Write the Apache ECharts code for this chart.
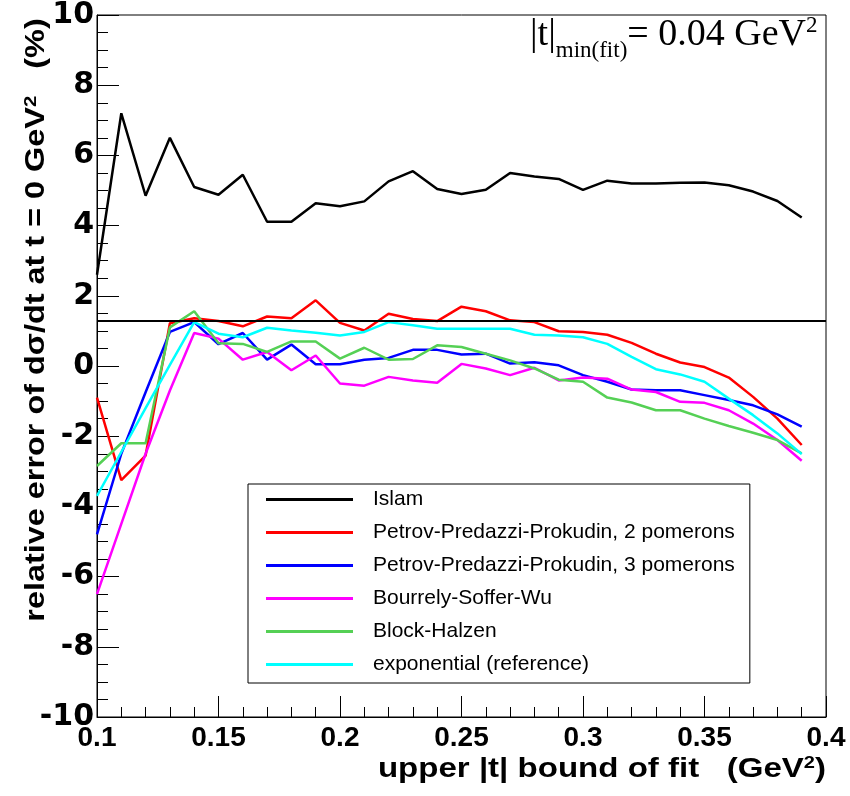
<!DOCTYPE html>
<html><head><meta charset="utf-8">
<script src="https://cdn.jsdelivr.net/npm/echarts@6/dist/echarts.min.js"></script>
<style>html,body{margin:0;padding:0;background:#fff}#c{width:850px;height:796px}</style>
</head><body><div id="c"></div>
<script>
const tUpper = [0.10,0.11,0.12,0.13,0.14,0.15,0.16,0.17,0.18,0.19,0.20,0.21,0.22,0.23,0.24,0.25,0.26,0.27,0.28,0.29,0.30,0.31,0.32,0.33,0.34,0.35,0.36,0.37,0.38,0.39];
const islam = [2.6,7.2,4.85,6.5,5.1,4.88,5.45,4.11,4.11,4.64,4.55,4.69,5.26,5.55,5.04,4.9,5.02,5.5,5.4,5.33,5.02,5.28,5.2,5.2,5.22,5.23,5.15,4.97,4.7,4.23];
const ppp2 = [-0.9,-3.25,-2.55,1.22,1.36,1.28,1.13,1.41,1.36,1.87,1.23,1.01,1.49,1.34,1.28,1.69,1.56,1.30,1.25,0.99,0.97,0.89,0.66,0.35,0.10,-0.03,-0.33,-0.88,-1.50,-2.25];
const ppp3 = [-4.8,-2.5,-0.75,0.97,1.25,0.62,0.94,0.18,0.61,0.05,0.05,0.18,0.23,0.46,0.46,0.33,0.35,0.07,0.11,0.02,-0.26,-0.45,-0.67,-0.69,-0.69,-0.83,-0.97,-1.12,-1.38,-1.73];
const bsw = [-6.5,-4.5,-2.5,-0.7,0.94,0.78,0.18,0.40,-0.12,0.30,-0.5,-0.56,-0.31,-0.41,-0.48,0.06,-0.07,-0.26,-0.05,-0.41,-0.33,-0.36,-0.67,-0.74,-1.02,-1.05,-1.26,-1.64,-2.11,-2.70];
const blockHalzen = [-2.85,-2.2,-2.2,1.1,1.56,0.65,0.63,0.40,0.70,0.70,0.21,0.52,0.18,0.20,0.59,0.54,0.35,0.16,-0.07,-0.39,-0.45,-0.90,-1.04,-1.26,-1.26,-1.50,-1.71,-1.90,-2.11,-2.49];
const exponential = [-3.7,-2.45,-1.2,0.03,1.25,0.92,0.82,1.09,1.01,0.95,0.87,0.97,1.25,1.16,1.06,1.06,1.06,1.06,0.89,0.87,0.82,0.63,0.26,-0.09,-0.24,-0.45,-0.93,-1.40,-1.92,-2.51];
const referenceLevel = 1.3;
const seriesNames = ['Islam','Petrov-Predazzi-Prokudin, 2 pomerons','Petrov-Predazzi-Prokudin, 3 pomerons','Bourrely-Soffer-Wu','Block-Halzen','exponential (reference)'];
const seriesValues = [islam, ppp2, ppp3, bsw, blockHalzen, exponential];
const seriesColors = ['#000000','#ff0000','#0000ff','#ff00ff','#55d055','#00ffff'];
const xTickLabels = ['0.1','0.15','0.2','0.25','0.3','0.35','0.4'];

const chart = echarts.init(document.getElementById('c'), null, {renderer:'canvas'});
const FONT = 'Liberation Sans, Arial, sans-serif';
const SERIF = 'Liberation Serif, Times New Roman, serif';
const mctx = document.createElement('canvas').getContext('2d');
function tw(text, size){ mctx.font = size + 'px ' + SERIF; return mctx.measureText(text).width; }

// annotation |t|min(fit)= 0.04 GeV2 built from pieces
const mainSize = 38, subSize = 23;
const annX = 530, mainBase = 48, subBase = 59, supTop = 18;
const pieces = [
  {t:'|t|', s:mainSize, cy: mainBase - 0.34*mainSize},
  {t:'min(fit)', s:subSize, cy: subBase - 0.34*subSize},
  {t:'= 0.04 GeV', s:mainSize, cy: mainBase - 0.34*mainSize},
  {t:'2', s:subSize, cy: supTop + 0.36*subSize}
];
const annGraphics = [];
let cx = annX;
pieces.forEach(p=>{
  annGraphics.push({type:'text', x:cx, y:p.cy, z:10,
    style:{text:p.t, fill:'#000', font: p.s + 'px ' + SERIF, align:'left', verticalAlign:'middle'}});
  cx += tw(p.t, p.s);
});

const series = seriesNames.map((n,k)=>({
  name:n, type:'line', showSymbol:false, symbol:'none',
  color: seriesColors[k],
  lineStyle:{width:2.5, color:seriesColors[k]},
  data: tUpper.map((x,i)=>[x, seriesValues[k][i]]),
  z: 3,
  markLine: k===0 ? {silent:true, symbol:'none', label:{show:false},
     lineStyle:{color:'#000', width:2, type:'solid'}, data:[{yAxis:referenceLevel}]} : undefined
}));

chart.setOption({
  animation:false,
  backgroundColor:'#fff',
  grid:{left:97, right:24, top:13, bottom:79, show:true, borderColor:'#000', borderWidth:1, backgroundColor:'transparent'},
  xAxis:{type:'value', min:0.1, max:0.4, interval:0.05,
    axisLine:{onZero:false, lineStyle:{color:'#000',width:1}},
    axisTick:{inside:true, length:21, lineStyle:{color:'#000'}},
    minorTick:{show:true, splitNumber:5, length:10, lineStyle:{color:'#000'}},
    splitLine:{show:false},
    axisLabel:{color:'#000', fontFamily:FONT, fontWeight:'bold', fontSize:28, margin:7,
      formatter:(v)=>{const i=Math.round((v-0.1)/0.05); return xTickLabels[i];}}
  },
  yAxis:{type:'value', min:-10, max:10, interval:2,
    axisLine:{onZero:false, lineStyle:{color:'#000',width:1}},
    axisTick:{inside:true, length:22, lineStyle:{color:'#000'}},
    minorTick:{show:true, splitNumber:4, length:11, lineStyle:{color:'#000'}},
    splitLine:{show:false},
    axisLabel:{color:'#000', fontFamily:'DejaVu Sans, sans-serif', fontWeight:'bold', fontSize:30, margin:3}
  },
  legend:{
    orient:'vertical', left:248, top:484,
    data: seriesNames,
    icon:'rect', itemWidth:87, itemHeight:3, itemGap:12,
    padding:[5,15,8,18],
    backgroundColor:'#fff', borderColor:'#000', borderWidth:1,
    textStyle:{color:'#000', fontFamily:FONT, fontSize:21, lineHeight:20, padding:[0,0,0,15]}
  },
  graphic: annGraphics.concat([
    {type:'text', x:826, y:772, z:10, scaleX:1.18,
     style:{text:'{b|upper |t| bound of fit   (GeV}{s|2}{b|)}', align:'right', verticalAlign:'middle', fill:'#000',
       rich:{
         b:{fontFamily:FONT, fontWeight:'bold', fontSize:28, lineHeight:34, verticalAlign:'top'},
         s:{fontFamily:FONT, fontWeight:'bold', fontSize:17, lineHeight:22, verticalAlign:'top'}
       }}},
    {type:'text', x:40, y:320, rotation:Math.PI/2, scaleX:1.2, z:10,
     style:{text:'{b|relative error of dσ/dt at t = 0 GeV}{s|2}{b|   (%)}', align:'center', verticalAlign:'middle', fill:'#000',
       rich:{
         b:{fontFamily:FONT, fontWeight:'bold', fontSize:27, lineHeight:34, verticalAlign:'top'},
         s:{fontFamily:FONT, fontWeight:'bold', fontSize:17, lineHeight:22, verticalAlign:'top'}
       }}}
  ]),
  series: series
});
</script></body></html>
